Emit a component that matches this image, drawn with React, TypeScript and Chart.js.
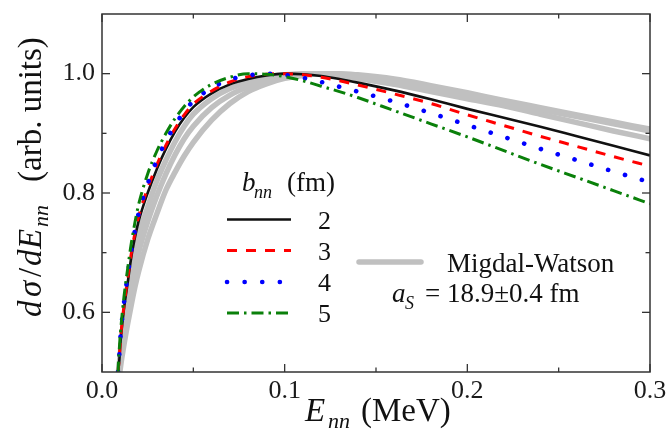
import React, { useEffect, useRef } from "react";
import { Chart, registerables } from "chart.js";

Chart.register(...registerables);

// E_nn (MeV)
const energy = [0.0088, 0.009, 0.0095, 0.010, 0.012, 0.014, 0.016, 0.018, 0.020, 0.025, 0.030, 0.035, 0.040, 0.045, 0.050, 0.060, 0.070, 0.080, 0.090, 0.100, 0.110, 0.120, 0.130, 0.140, 0.160, 0.180, 0.200, 0.220, 0.240, 0.260, 0.280, 0.300];

// b_nn = 2, 3, 4, 5 fm
const bnn2 = [0.500, 0.505, 0.520, 0.545, 0.605, 0.648, 0.692, 0.725, 0.752, 0.800, 0.840, 0.874, 0.903, 0.926, 0.944, 0.967, 0.982, 0.991, 0.997, 1.000, 0.999, 0.996, 0.991, 0.985, 0.972, 0.957, 0.941, 0.926, 0.911, 0.895, 0.879, 0.863];
const bnn3 = [0.500, 0.508, 0.525, 0.550, 0.610, 0.655, 0.698, 0.732, 0.760, 0.808, 0.847, 0.880, 0.908, 0.931, 0.949, 0.971, 0.986, 0.995, 0.999, 1.000, 0.998, 0.994, 0.988, 0.981, 0.966, 0.950, 0.931, 0.913, 0.895, 0.878, 0.861, 0.845];
const bnn4 = [0.500, 0.510, 0.530, 0.555, 0.615, 0.660, 0.703, 0.737, 0.765, 0.815, 0.855, 0.887, 0.914, 0.936, 0.954, 0.976, 0.990, 0.997, 1.000, 0.998, 0.993, 0.986, 0.978, 0.970, 0.953, 0.934, 0.914, 0.894, 0.874, 0.855, 0.836, 0.818];
const bnn5 = [0.497, 0.515, 0.540, 0.562, 0.625, 0.672, 0.715, 0.750, 0.780, 0.832, 0.870, 0.900, 0.925, 0.945, 0.961, 0.982, 0.994, 1.000, 0.999, 0.995, 0.988, 0.979, 0.970, 0.960, 0.938, 0.916, 0.894, 0.871, 0.848, 0.826, 0.804, 0.782];

// Migdal-Watson, a_S = 18.9 +- 0.4 fm
const mwLow = [0.490, 0.500, 0.515, 0.530, 0.585, 0.630, 0.668, 0.700, 0.728, 0.776, 0.820, 0.855, 0.886, 0.912, 0.932, 0.958, 0.975, 0.986, 0.994, 0.998, 1.000, 0.999, 0.996, 0.992, 0.982, 0.970, 0.958, 0.946, 0.932, 0.918, 0.904, 0.891];
const mwMid = [0.480, 0.490, 0.505, 0.520, 0.565, 0.605, 0.640, 0.672, 0.700, 0.752, 0.795, 0.832, 0.864, 0.891, 0.912, 0.943, 0.964, 0.978, 0.988, 0.995, 0.999, 1.000, 0.999, 0.996, 0.987, 0.976, 0.965, 0.953, 0.940, 0.928, 0.916, 0.904];
const mwHigh = [0.460, 0.470, 0.490, 0.505, 0.545, 0.580, 0.612, 0.642, 0.668, 0.722, 0.765, 0.805, 0.835, 0.862, 0.885, 0.922, 0.950, 0.970, 0.983, 0.992, 0.997, 1.000, 1.000, 0.998, 0.991, 0.980, 0.968, 0.955, 0.943, 0.931, 0.919, 0.907];

const xTickLabels = [0.0, 0.1, 0.2, 0.3];
const xMinorTicks = [0.05, 0.15, 0.25];
const yTickLabels = [0.6, 0.8, 1.0];
const yMinorTicks = [0.7, 0.9];
const legendLabels = ["2", "3", "4", "5"];

const FAMILY = "Liberation Serif, DejaVu Serif, serif";
const f = (size: number, italic = false) => `${italic ? "italic " : ""}${size}px ${FAMILY}`;

const pts = (ys: number[]) => energy.map((e, i) => ({ x: e, y: ys[i] }));

const styles = [
  { color: "#111111", width: 2.6, dash: [] as number[], cap: "butt" },
  { color: "#ff0000", width: 3, dash: [10, 9], cap: "butt" },
  { color: "#0000ff", width: 4.6, dash: [0.1, 17.5], cap: "round" },
  { color: "#0a800a", width: 3, dash: [12, 5, 2.5, 5], cap: "butt" },
];

function drawRuns(ctx: CanvasRenderingContext2D, runs: { t: string; x: number; y: number; font: string }[]) {
  runs.forEach((r) => {
    ctx.font = r.font;
    ctx.fillText(r.t, r.x, r.y);
  });
}

const decoPlugin = {
  id: "deco",
  afterDatasetsDraw(chart: any) {
    const { ctx, chartArea: a, scales } = chart;
    const xs = scales.x;
    const ys = scales.y;
    ctx.save();
    ctx.strokeStyle = "#333";
    ctx.lineWidth = 1.5;
    ctx.setLineDash([]);
    ctx.strokeRect(a.left, a.top, a.right - a.left, a.bottom - a.top);
    ctx.lineWidth = 1.3;
    const line = (x1: number, y1: number, x2: number, y2: number) => {
      ctx.beginPath();
      ctx.moveTo(x1, y1);
      ctx.lineTo(x2, y2);
      ctx.stroke();
    };
    const xt = (vals: number[], len: number) =>
      vals.forEach((v) => {
        const p = xs.getPixelForValue(v);
        line(p, a.bottom, p, a.bottom - len);
        line(p, a.top, p, a.top + len);
      });
    const yt = (vals: number[], len: number) =>
      vals.forEach((v) => {
        const p = ys.getPixelForValue(v);
        line(a.left, p, a.left + len, p);
        line(a.right, p, a.right - len, p);
      });
    xt(xTickLabels, 8);
    xt(xMinorTicks, 4.5);
    yt(yTickLabels, 8);
    yt(yMinorTicks, 4.5);

    ctx.fillStyle = "#111";
    ctx.textBaseline = "alphabetic";
    ctx.textAlign = "left";
    drawRuns(ctx, [
      { t: "b", x: 242, y: 191, font: f(27, true) },
      { t: "nn", x: 254, y: 198, font: f(18, true) },
      { t: "(fm)", x: 287, y: 191, font: f(27) },
    ]);
    const rowY = [219.5, 250.5, 282, 313];
    styles.forEach((s, i) => {
      ctx.strokeStyle = s.color;
      ctx.lineWidth = s.width;
      ctx.lineCap = s.cap as CanvasLineCap;
      ctx.setLineDash(s.dash);
      line(227, rowY[i], 291, rowY[i]);
      ctx.setLineDash([]);
      ctx.lineCap = "butt";
      ctx.font = f(26);
      ctx.fillText(legendLabels[i], 318, rowY[i] + 9);
    });

    ctx.strokeStyle = "#c0c0c0";
    ctx.lineWidth = 5.5;
    ctx.lineCap = "round";
    line(359, 262, 421, 262);
    ctx.lineCap = "butt";
    drawRuns(ctx, [
      { t: "Migdal-Watson", x: 447, y: 272, font: f(27) },
      { t: "a", x: 392, y: 302, font: f(27, true) },
      { t: "S", x: 405, y: 309, font: f(18, true) },
      { t: "= 18.9\u00B10.4 fm", x: 425, y: 302, font: f(27) },
    ]);

    drawRuns(ctx, [
      { t: "E", x: 305, y: 421, font: f(33, true) },
      { t: "nn", x: 328, y: 428, font: f(22, true) },
      { t: "(MeV)", x: 361, y: 421, font: f(33) },
    ]);

    ctx.save();
    ctx.translate(41, 317);
    ctx.rotate(-Math.PI / 2);
    drawRuns(ctx, [
      { t: "d", x: 0, y: 0, font: f(33, true) },
      { t: "\u03C3", x: 20, y: 0, font: f(33, true) },
      { t: "/", x: 40, y: 0, font: f(33) },
      { t: "d", x: 51, y: 0, font: f(33, true) },
      { t: "E", x: 68, y: 0, font: f(33, true) },
      { t: "nn", x: 90, y: 7, font: f(22, true) },
      { t: "(arb. units)", x: 135, y: 0, font: f(33) },
    ]);
    ctx.restore();
    ctx.restore();
  },
};

export default function App() {
  const ref = useRef<HTMLCanvasElement | null>(null);
  useEffect(() => {
    document.body.style.margin = "0";
    document.body.style.overflow = "hidden";
    const canvas = ref.current;
    if (!canvas) return;
    const mk = (data: number[], s: any, order: number) => ({
      data: pts(data),
      borderColor: s.color,
      borderWidth: s.width,
      borderDash: s.dash,
      borderCapStyle: s.cap,
      borderJoinStyle: "round",
      pointRadius: 0,
      fill: false,
      cubicInterpolationMode: "monotone",
      clip: 0,
      order,
    });
    const gray = { color: "#c0c0c0", width: 5.5, dash: [], cap: "round" };
    const tickFont = { family: FAMILY, size: 26 };
    const chart = new Chart(canvas, {
      type: "line",
      data: {
        datasets: [
          mk(mwHigh, gray, 10),
          mk(mwMid, gray, 11),
          mk(mwLow, gray, 12),
          mk(bnn2, styles[0], 4),
          mk(bnn3, styles[1], 3),
          mk(bnn4, styles[2], 2),
          mk(bnn5, styles[3], 1),
        ] as any,
      },
      options: {
        animation: false,
        responsive: false,
        devicePixelRatio: 1,
        font: { family: FAMILY },
        layout: { padding: { left: 0, right: 18, top: 14, bottom: 0 } },
        plugins: { legend: { display: false }, tooltip: { enabled: false } },
        scales: {
          x: {
            type: "linear",
            min: 0,
            max: 0.3,
            grid: { display: false, drawTicks: false },
            border: { display: false },
            ticks: {
              font: tickFont,
              color: "#1a1a1a",
              padding: 4,
              maxRotation: 0,
              autoSkip: false,
              callback: (v: any) => Number(v).toFixed(1),
            },
            afterBuildTicks: (s: any) => {
              s.ticks = xTickLabels.map((v) => ({ value: v }));
            },
            afterFit: (s: any) => {
              s.height = 68;
              s.paddingLeft = 0;
              s.paddingRight = 0;
            },
          },
          y: {
            type: "linear",
            min: 0.5,
            max: 1.1,
            grid: { display: false, drawTicks: false },
            border: { display: false },
            ticks: {
              font: tickFont,
              color: "#1a1a1a",
              padding: 7,
              autoSkip: false,
              callback: (v: any) => Number(v).toFixed(1),
            },
            afterBuildTicks: (s: any) => {
              s.ticks = yTickLabels.map((v) => ({ value: v }));
            },
            afterFit: (s: any) => {
              s.width = 102;
              s.paddingTop = 0;
              s.paddingBottom = 0;
            },
          },
        },
      } as any,
      plugins: [decoPlugin],
    });
    let alive = true;
    const fonts = (document as any).fonts;
    if (fonts && fonts.load) {
      Promise.all([fonts.load(f(27)), fonts.load(f(27, true))])
        .then(() => {
          if (alive) chart.update();
        })
        .catch(() => {});
    }
    return () => {
      alive = false;
      chart.destroy();
    };
  }, []);
  return (
    <div style={{ width: 668, height: 440 }}>
      <canvas ref={ref} width={668} height={440} />
    </div>
  );
}
